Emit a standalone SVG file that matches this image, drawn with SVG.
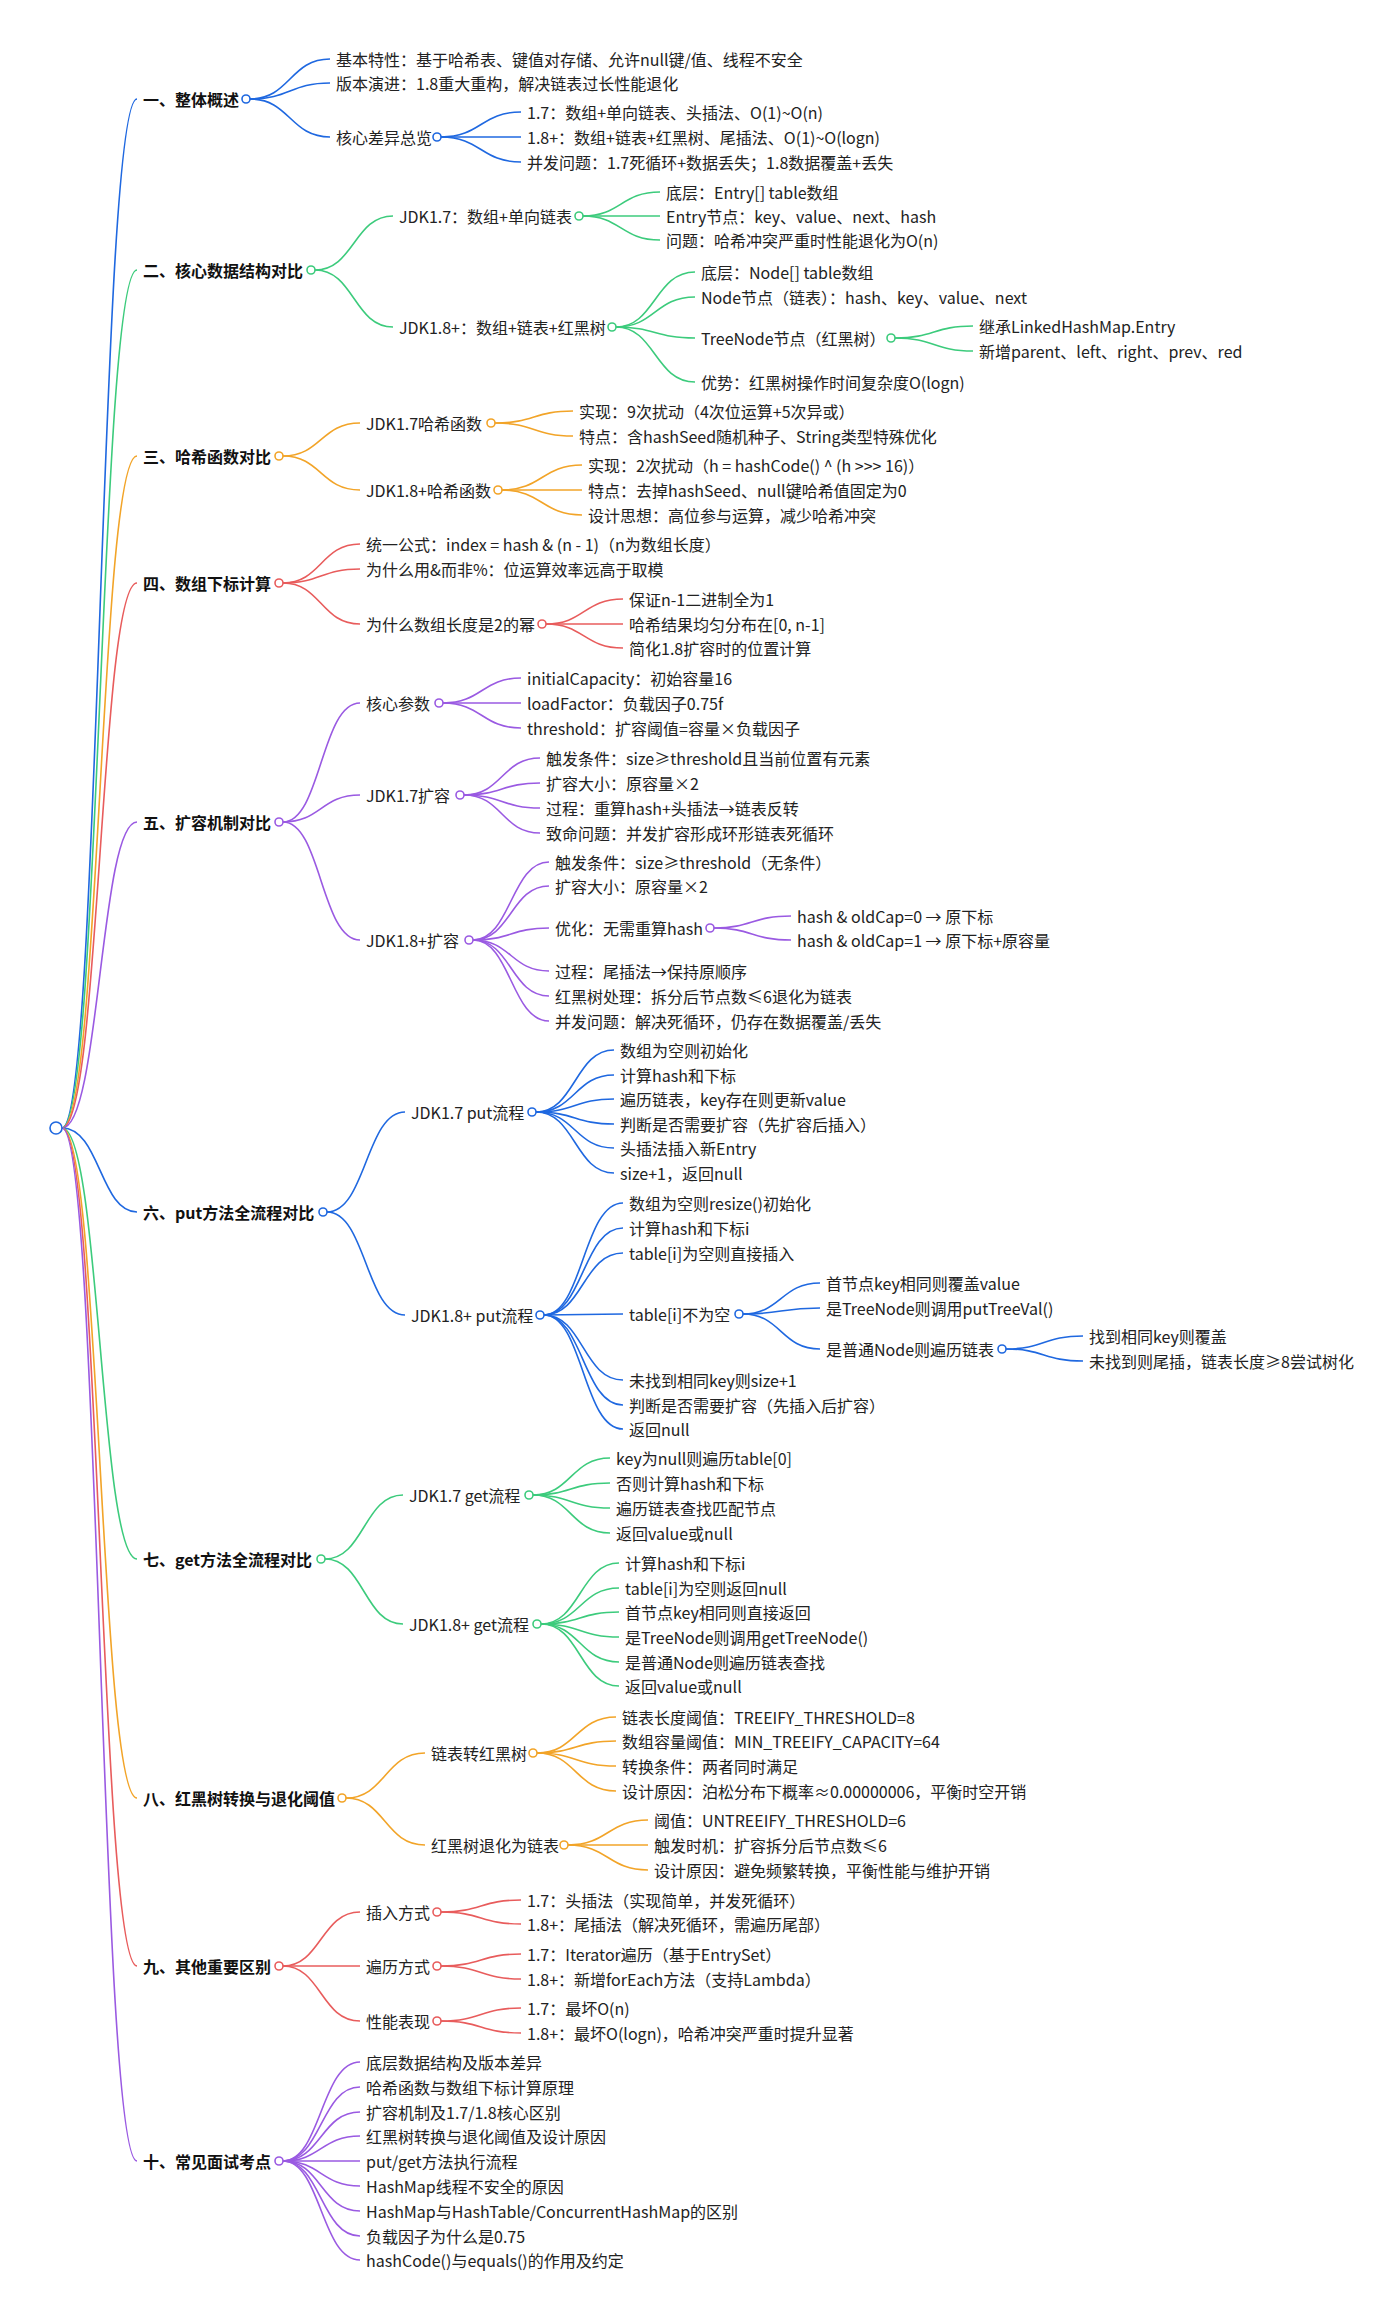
<svg xmlns="http://www.w3.org/2000/svg" width="1400" height="2317" viewBox="0 0 1400 2317">
<style>
text{font-family:"Noto Sans CJK SC","Noto Sans",sans-serif;font-size:16px;fill:#222;dominant-baseline:central}
.l1{font-weight:bold;fill:#111}
path{fill:none;stroke-width:1.6}
circle{fill:#fff;stroke-width:1.6}
.b{stroke:#1f68e0}.g{stroke:#3ccb7c}.o{stroke:#f2a428}.r{stroke:#e85c5c}.p{stroke:#9a5ae2}
</style>
<rect width="1400" height="2317" fill="#fff"/>
<g id="connectors">
<path class="b" d="M62 1128 C100 1128 100 99 137 99"/>
<path class="g" d="M62 1128 C100 1128 100 270 137 270"/>
<path class="o" d="M62 1128 C100 1128 100 456 137 456"/>
<path class="r" d="M62 1128 C100 1128 100 583 137 583"/>
<path class="p" d="M62 1128 C100 1128 100 822 137 822"/>
<path class="b" d="M62 1128 C100 1128 100 1212 137 1212"/>
<path class="g" d="M62 1128 C100 1128 100 1559 137 1559"/>
<path class="o" d="M62 1128 C100 1128 100 1798 137 1798"/>
<path class="r" d="M62 1128 C100 1128 100 1966 137 1966"/>
<path class="p" d="M62 1128 C100 1128 100 2161 137 2161"/>
<!-- 一 -->
<path class="b" d="M250 99 C290 99 290 59 330 59"/>
<path class="b" d="M250 99 C290 99 290 83 330 83"/>
<path class="b" d="M250 99 C290 99 290 137 330 137"/>
<path class="b" d="M441 137 C481 137 481 112 521 112"/>
<path class="b" d="M441 137 L521 137"/>
<path class="b" d="M441 137 C481 137 481 162 521 162"/>
<!-- 二 -->
<path class="g" d="M315 270 C354 270 354 216 393 216"/>
<path class="g" d="M315 270 C354 270 354 327 393 327"/>
<path class="g" d="M583 216 C621 216 621 192 660 192"/>
<path class="g" d="M583 216 L660 216"/>
<path class="g" d="M583 216 C621 216 621 240 660 240"/>
<path class="g" d="M616 327 C655 327 655 272 695 272"/>
<path class="g" d="M616 327 C655 327 655 297 695 297"/>
<path class="g" d="M616 327 C655 327 655 338 695 338"/>
<path class="g" d="M616 327 C655 327 655 382 695 382"/>
<path class="g" d="M895 338 C934 338 934 326 973 326"/>
<path class="g" d="M895 338 C934 338 934 351 973 351"/>
<!-- 三 -->
<path class="o" d="M283 456 C321 456 321 423 360 423"/>
<path class="o" d="M283 456 C321 456 321 490 360 490"/>
<path class="o" d="M495 423 C534 423 534 411 573 411"/>
<path class="o" d="M495 423 C534 423 534 436 573 436"/>
<path class="o" d="M502 490 C542 490 542 465 582 465"/>
<path class="o" d="M502 490 L582 490"/>
<path class="o" d="M502 490 C542 490 542 515 582 515"/>
<!-- 四 -->
<path class="r" d="M283 583 C321 583 321 544 360 544"/>
<path class="r" d="M283 583 C321 583 321 569 360 569"/>
<path class="r" d="M283 583 C321 583 321 624 360 624"/>
<path class="r" d="M546 624 C584 624 584 599 623 599"/>
<path class="r" d="M546 624 L623 624"/>
<path class="r" d="M546 624 C584 624 584 648 623 648"/>
<!-- 五 -->
<path class="p" d="M283 822 C321 822 321 703 360 703"/>
<path class="p" d="M283 822 C321 822 321 795 360 795"/>
<path class="p" d="M283 822 C321 822 321 940 360 940"/>
<path class="p" d="M443 703 C482 703 482 678 521 678"/>
<path class="p" d="M443 703 L521 703"/>
<path class="p" d="M443 703 C482 703 482 728 521 728"/>
<path class="p" d="M464 795 C502 795 502 758 540 758"/>
<path class="p" d="M464 795 C502 795 502 783 540 783"/>
<path class="p" d="M464 795 C502 795 502 808 540 808"/>
<path class="p" d="M464 795 C502 795 502 833 540 833"/>
<path class="p" d="M473 940 C511 940 511 862 549 862"/>
<path class="p" d="M473 940 C511 940 511 886 549 886"/>
<path class="p" d="M473 940 C511 940 511 928 549 928"/>
<path class="p" d="M473 940 C511 940 511 971 549 971"/>
<path class="p" d="M473 940 C511 940 511 996 549 996"/>
<path class="p" d="M473 940 C511 940 511 1021 549 1021"/>
<path class="p" d="M714 928 C752 928 752 916 791 916"/>
<path class="p" d="M714 928 C752 928 752 940 791 940"/>
<!-- 六 -->
<path class="b" d="M327 1212 C366 1212 366 1112 405 1112"/>
<path class="b" d="M327 1212 C366 1212 366 1315 405 1315"/>
<path class="b" d="M536 1112 C575 1112 575 1050 614 1050"/>
<path class="b" d="M536 1112 C575 1112 575 1075 614 1075"/>
<path class="b" d="M536 1112 C575 1112 575 1099 614 1099"/>
<path class="b" d="M536 1112 C575 1112 575 1124 614 1124"/>
<path class="b" d="M536 1112 C575 1112 575 1148 614 1148"/>
<path class="b" d="M536 1112 C575 1112 575 1173 614 1173"/>
<path class="b" d="M544 1315 C583 1315 583 1203 623 1203"/>
<path class="b" d="M544 1315 C583 1315 583 1228 623 1228"/>
<path class="b" d="M544 1315 C583 1315 583 1253 623 1253"/>
<path class="b" d="M544 1315 C583 1315 583 1314 623 1314"/>
<path class="b" d="M544 1315 C583 1315 583 1380 623 1380"/>
<path class="b" d="M544 1315 C583 1315 583 1405 623 1405"/>
<path class="b" d="M544 1315 C583 1315 583 1429 623 1429"/>
<path class="b" d="M743 1314 C781 1314 781 1283 820 1283"/>
<path class="b" d="M743 1314 C781 1314 781 1308 820 1308"/>
<path class="b" d="M743 1314 C781 1314 781 1349 820 1349"/>
<path class="b" d="M1006 1349 C1044 1349 1044 1336 1083 1336"/>
<path class="b" d="M1006 1349 C1044 1349 1044 1361 1083 1361"/>
<!-- 七 -->
<path class="g" d="M325 1559 C364 1559 364 1495 403 1495"/>
<path class="g" d="M325 1559 C364 1559 364 1624 403 1624"/>
<path class="g" d="M533 1495 C571 1495 571 1458 610 1458"/>
<path class="g" d="M533 1495 C571 1495 571 1483 610 1483"/>
<path class="g" d="M533 1495 C571 1495 571 1508 610 1508"/>
<path class="g" d="M533 1495 C571 1495 571 1533 610 1533"/>
<path class="g" d="M541 1624 C580 1624 580 1563 619 1563"/>
<path class="g" d="M541 1624 C580 1624 580 1588 619 1588"/>
<path class="g" d="M541 1624 C580 1624 580 1612 619 1612"/>
<path class="g" d="M541 1624 C580 1624 580 1637 619 1637"/>
<path class="g" d="M541 1624 C580 1624 580 1662 619 1662"/>
<path class="g" d="M541 1624 C580 1624 580 1686 619 1686"/>
<!-- 八 -->
<path class="o" d="M346 1798 C385 1798 385 1753 425 1753"/>
<path class="o" d="M346 1798 C385 1798 385 1845 425 1845"/>
<path class="o" d="M537 1753 C576 1753 576 1717 616 1717"/>
<path class="o" d="M537 1753 C576 1753 576 1741 616 1741"/>
<path class="o" d="M537 1753 C576 1753 576 1766 616 1766"/>
<path class="o" d="M537 1753 C576 1753 576 1791 616 1791"/>
<path class="o" d="M568 1845 C608 1845 608 1820 648 1820"/>
<path class="o" d="M568 1845 L648 1845"/>
<path class="o" d="M568 1845 C608 1845 608 1870 648 1870"/>
<!-- 九 -->
<path class="r" d="M283 1966 C321 1966 321 1912 360 1912"/>
<path class="r" d="M283 1966 L360 1966"/>
<path class="r" d="M283 1966 C321 1966 321 2021 360 2021"/>
<path class="r" d="M441 1912 C481 1912 481 1900 521 1900"/>
<path class="r" d="M441 1912 C481 1912 481 1924 521 1924"/>
<path class="r" d="M441 1966 C481 1966 481 1954 521 1954"/>
<path class="r" d="M441 1966 C481 1966 481 1979 521 1979"/>
<path class="r" d="M441 2021 C481 2021 481 2008 521 2008"/>
<path class="r" d="M441 2021 C481 2021 481 2033 521 2033"/>
<!-- 十 -->
<path class="p" d="M283 2161 C321 2161 321 2062 360 2062"/>
<path class="p" d="M283 2161 C321 2161 321 2087 360 2087"/>
<path class="p" d="M283 2161 C321 2161 321 2112 360 2112"/>
<path class="p" d="M283 2161 C321 2161 321 2136 360 2136"/>
<path class="p" d="M283 2161 L360 2161"/>
<path class="p" d="M283 2161 C321 2161 321 2186 360 2186"/>
<path class="p" d="M283 2161 C321 2161 321 2211 360 2211"/>
<path class="p" d="M283 2161 C321 2161 321 2236 360 2236"/>
<path class="p" d="M283 2161 C321 2161 321 2260 360 2260"/>
</g>
<g id="root"><circle class="b" cx="56" cy="1128" r="6"/></g>
<g id="n1">
<text class="l1" x="143" y="99">一、整体概述</text><circle class="b" cx="246" cy="99" r="4"/>
<text x="336" y="59">基本特性：基于哈希表、键值对存储、允许null键/值、线程不安全</text>
<text x="336" y="83">版本演进：1.8重大重构，解决链表过长性能退化</text>
<text x="336" y="137">核心差异总览</text><circle class="b" cx="437" cy="137" r="4"/>
<text x="527" y="112">1.7：数组+单向链表、头插法、O(1)~O(n)</text>
<text x="527" y="137">1.8+：数组+链表+红黑树、尾插法、O(1)~O(logn)</text>
<text x="527" y="162">并发问题：1.7死循环+数据丢失；1.8数据覆盖+丢失</text>
</g>
<g id="n2">
<text class="l1" x="143" y="270">二、核心数据结构对比</text><circle class="g" cx="311" cy="270" r="4"/>
<text x="399" y="216">JDK1.7：数组+单向链表</text><circle class="g" cx="579" cy="216" r="4"/>
<text x="666" y="192">底层：Entry[] table数组</text>
<text x="666" y="216">Entry节点：key、value、next、hash</text>
<text x="666" y="240">问题：哈希冲突严重时性能退化为O(n)</text>
<text x="399" y="327">JDK1.8+：数组+链表+红黑树</text><circle class="g" cx="612" cy="327" r="4"/>
<text x="701" y="272">底层：Node[] table数组</text>
<text x="701" y="297">Node节点（链表）：hash、key、value、next</text>
<text x="701" y="338">TreeNode节点（红黑树）</text><circle class="g" cx="891" cy="338" r="4"/>
<text x="979" y="326">继承LinkedHashMap.Entry</text>
<text x="979" y="351">新增parent、left、right、prev、red</text>
<text x="701" y="382">优势：红黑树操作时间复杂度O(logn)</text>
</g>
<g id="n3">
<text class="l1" x="143" y="456">三、哈希函数对比</text><circle class="o" cx="279" cy="456" r="4"/>
<text x="366" y="423">JDK1.7哈希函数</text><circle class="o" cx="491" cy="423" r="4"/>
<text x="579" y="411">实现：9次扰动（4次位运算+5次异或）</text>
<text x="579" y="436">特点：含hashSeed随机种子、String类型特殊优化</text>
<text x="366" y="490">JDK1.8+哈希函数</text><circle class="o" cx="498" cy="490" r="4"/>
<text x="588" y="465">实现：2次扰动（h = hashCode() ^ (h &gt;&gt;&gt; 16)）</text>
<text x="588" y="490">特点：去掉hashSeed、null键哈希值固定为0</text>
<text x="588" y="515">设计思想：高位参与运算，减少哈希冲突</text>
</g>
<g id="n4">
<text class="l1" x="143" y="583">四、数组下标计算</text><circle class="r" cx="279" cy="583" r="4"/>
<text x="366" y="544">统一公式：index = hash &amp; (n - 1)（n为数组长度）</text>
<text x="366" y="569">为什么用&amp;而非%：位运算效率远高于取模</text>
<text x="366" y="624">为什么数组长度是2的幂</text><circle class="r" cx="542" cy="624" r="4"/>
<text x="629" y="599">保证n-1二进制全为1</text>
<text x="629" y="624">哈希结果均匀分布在[0, n-1]</text>
<text x="629" y="648">简化1.8扩容时的位置计算</text>
</g>
<g id="n5">
<text class="l1" x="143" y="822">五、扩容机制对比</text><circle class="p" cx="279" cy="822" r="4"/>
<text x="366" y="703">核心参数</text><circle class="p" cx="439" cy="703" r="4"/>
<text x="527" y="678">initialCapacity：初始容量16</text>
<text x="527" y="703">loadFactor：负载因子0.75f</text>
<text x="527" y="728">threshold：扩容阈值=容量×负载因子</text>
<text x="366" y="795">JDK1.7扩容</text><circle class="p" cx="460" cy="795" r="4"/>
<text x="546" y="758">触发条件：size≥threshold且当前位置有元素</text>
<text x="546" y="783">扩容大小：原容量×2</text>
<text x="546" y="808">过程：重算hash+头插法→链表反转</text>
<text x="546" y="833">致命问题：并发扩容形成环形链表死循环</text>
<text x="366" y="940">JDK1.8+扩容</text><circle class="p" cx="469" cy="940" r="4"/>
<text x="555" y="862">触发条件：size≥threshold（无条件）</text>
<text x="555" y="886">扩容大小：原容量×2</text>
<text x="555" y="928">优化：无需重算hash</text><circle class="p" cx="710" cy="928" r="4"/>
<text x="797" y="916">hash &amp; oldCap=0 → 原下标</text>
<text x="797" y="940">hash &amp; oldCap=1 → 原下标+原容量</text>
<text x="555" y="971">过程：尾插法→保持原顺序</text>
<text x="555" y="996">红黑树处理：拆分后节点数≤6退化为链表</text>
<text x="555" y="1021">并发问题：解决死循环，仍存在数据覆盖/丢失</text>
</g>
<g id="n6">
<text class="l1" x="143" y="1212">六、put方法全流程对比</text><circle class="b" cx="323" cy="1212" r="4"/>
<text x="411" y="1112">JDK1.7 put流程</text><circle class="b" cx="532" cy="1112" r="4"/>
<text x="620" y="1050">数组为空则初始化</text>
<text x="620" y="1075">计算hash和下标</text>
<text x="620" y="1099">遍历链表，key存在则更新value</text>
<text x="620" y="1124">判断是否需要扩容（先扩容后插入）</text>
<text x="620" y="1148">头插法插入新Entry</text>
<text x="620" y="1173">size+1，返回null</text>
<text x="411" y="1315">JDK1.8+ put流程</text><circle class="b" cx="540" cy="1315" r="4"/>
<text x="629" y="1203">数组为空则resize()初始化</text>
<text x="629" y="1228">计算hash和下标i</text>
<text x="629" y="1253">table[i]为空则直接插入</text>
<text x="629" y="1314">table[i]不为空</text><circle class="b" cx="739" cy="1314" r="4"/>
<text x="826" y="1283">首节点key相同则覆盖value</text>
<text x="826" y="1308">是TreeNode则调用putTreeVal()</text>
<text x="826" y="1349">是普通Node则遍历链表</text><circle class="b" cx="1002" cy="1349" r="4"/>
<text x="1089" y="1336">找到相同key则覆盖</text>
<text x="1089" y="1361">未找到则尾插，链表长度≥8尝试树化</text>
<text x="629" y="1380">未找到相同key则size+1</text>
<text x="629" y="1405">判断是否需要扩容（先插入后扩容）</text>
<text x="629" y="1429">返回null</text>
</g>
<g id="n7">
<text class="l1" x="143" y="1559">七、get方法全流程对比</text><circle class="g" cx="321" cy="1559" r="4"/>
<text x="409" y="1495">JDK1.7 get流程</text><circle class="g" cx="529" cy="1495" r="4"/>
<text x="616" y="1458">key为null则遍历table[0]</text>
<text x="616" y="1483">否则计算hash和下标</text>
<text x="616" y="1508">遍历链表查找匹配节点</text>
<text x="616" y="1533">返回value或null</text>
<text x="409" y="1624">JDK1.8+ get流程</text><circle class="g" cx="537" cy="1624" r="4"/>
<text x="625" y="1563">计算hash和下标i</text>
<text x="625" y="1588">table[i]为空则返回null</text>
<text x="625" y="1612">首节点key相同则直接返回</text>
<text x="625" y="1637">是TreeNode则调用getTreeNode()</text>
<text x="625" y="1662">是普通Node则遍历链表查找</text>
<text x="625" y="1686">返回value或null</text>
</g>
<g id="n8">
<text class="l1" x="143" y="1798">八、红黑树转换与退化阈值</text><circle class="o" cx="342" cy="1798" r="4"/>
<text x="431" y="1753">链表转红黑树</text><circle class="o" cx="533" cy="1753" r="4"/>
<text x="622" y="1717">链表长度阈值：TREEIFY_THRESHOLD=8</text>
<text x="622" y="1741">数组容量阈值：MIN_TREEIFY_CAPACITY=64</text>
<text x="622" y="1766">转换条件：两者同时满足</text>
<text x="622" y="1791">设计原因：泊松分布下概率≈0.00000006，平衡时空开销</text>
<text x="431" y="1845">红黑树退化为链表</text><circle class="o" cx="564" cy="1845" r="4"/>
<text x="654" y="1820">阈值：UNTREEIFY_THRESHOLD=6</text>
<text x="654" y="1845">触发时机：扩容拆分后节点数≤6</text>
<text x="654" y="1870">设计原因：避免频繁转换，平衡性能与维护开销</text>
</g>
<g id="n9">
<text class="l1" x="143" y="1966">九、其他重要区别</text><circle class="r" cx="279" cy="1966" r="4"/>
<text x="366" y="1912">插入方式</text><circle class="r" cx="437" cy="1912" r="4"/>
<text x="527" y="1900">1.7：头插法（实现简单，并发死循环）</text>
<text x="527" y="1924">1.8+：尾插法（解决死循环，需遍历尾部）</text>
<text x="366" y="1966">遍历方式</text><circle class="r" cx="437" cy="1966" r="4"/>
<text x="527" y="1954">1.7：Iterator遍历（基于EntrySet）</text>
<text x="527" y="1979">1.8+：新增forEach方法（支持Lambda）</text>
<text x="366" y="2021">性能表现</text><circle class="r" cx="437" cy="2021" r="4"/>
<text x="527" y="2008">1.7：最坏O(n)</text>
<text x="527" y="2033">1.8+：最坏O(logn)，哈希冲突严重时提升显著</text>
</g>
<g id="n10">
<text class="l1" x="143" y="2161">十、常见面试考点</text><circle class="p" cx="279" cy="2161" r="4"/>
<text x="366" y="2062">底层数据结构及版本差异</text>
<text x="366" y="2087">哈希函数与数组下标计算原理</text>
<text x="366" y="2112">扩容机制及1.7/1.8核心区别</text>
<text x="366" y="2136">红黑树转换与退化阈值及设计原因</text>
<text x="366" y="2161">put/get方法执行流程</text>
<text x="366" y="2186">HashMap线程不安全的原因</text>
<text x="366" y="2211">HashMap与HashTable/ConcurrentHashMap的区别</text>
<text x="366" y="2236">负载因子为什么是0.75</text>
<text x="366" y="2260">hashCode()与equals()的作用及约定</text>
</g>
</svg>
